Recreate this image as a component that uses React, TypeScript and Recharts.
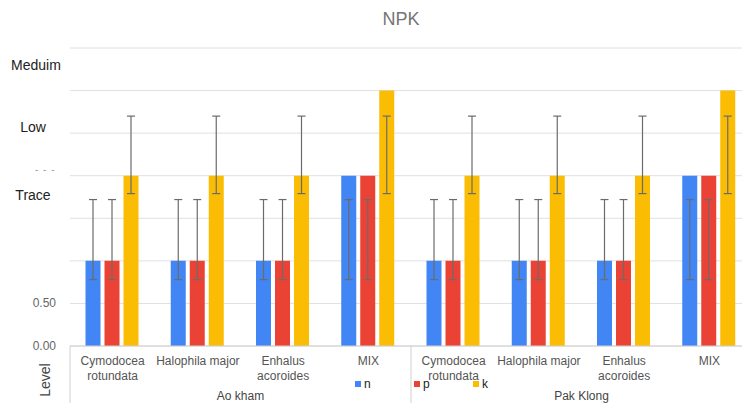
import { Bar, BarChart, CartesianGrid, ErrorBar, XAxis, YAxis } from "recharts";

const categories = [
  "Cymodocea\nrotundata",
  "Halophila major",
  "Enhalus\nacoroides",
  "MIX",
  "Cymodocea\nrotundata",
  "Halophila major",
  "Enhalus\nacoroides",
  "MIX",
];
const groups = ["Ao kham", "Pak Klong"];

const nValues = [1, 1, 1, 2, 1, 1, 1, 2];
const pValues = [1, 1, 1, 2, 1, 1, 1, 2];
const kValues = [2, 2, 2, 3, 2, 2, 2, 3];

// error bar ends (absolute values)
const nErrLow = [0.78, 0.78, 0.78, 0.78, 0.78, 0.78, 0.78, 0.78];
const nErrHigh = [1.72, 1.72, 1.72, 1.72, 1.72, 1.72, 1.72, 1.72];
const pErrLow = [0.78, 0.78, 0.78, 0.78, 0.78, 0.78, 0.78, 0.78];
const pErrHigh = [1.72, 1.72, 1.72, 1.72, 1.72, 1.72, 1.72, 1.72];
const kErrLow = [1.79, 1.79, 1.79, 1.79, 1.79, 1.79, 1.79, 1.79];
const kErrHigh = [2.7, 2.7, 2.7, 2.7, 2.7, 2.7, 2.7, 2.7];

const yTicks = [0, 0.5, 1, 1.5, 2, 2.5, 3, 3.5];
const shownTicks = [0, 0.5];
const levelLabels = [
  { text: "Meduim", x: 36, y: 65 },
  { text: "Low", x: 33, y: 127 },
  { text: "Trace", x: 33, y: 195 },
];

const series = [
  { key: "n", color: "#4285F4" },
  { key: "p", color: "#EA4335" },
  { key: "k", color: "#FBBC04" },
];

const rows = categories.map((name, i) => ({
  name,
  n: nValues[i],
  p: pValues[i],
  k: kValues[i],
  nErr: [nValues[i] - nErrLow[i], nErrHigh[i] - nValues[i]],
  pErr: [pValues[i] - pErrLow[i], pErrHigh[i] - pValues[i]],
  kErr: [kValues[i] - kErrLow[i], kErrHigh[i] - kValues[i]],
}));

const CHART_W = 752;
const CHART_H = 403;
const AXIS_W = 70;
const XAXIS_H = 57;
const AXIS_Y = CHART_H - XAXIS_H;
const BAND = (CHART_W - AXIS_W) / categories.length;
const FONT = "Arial, 'Liberation Sans', sans-serif";

function ValueTick({ x, y, payload }: any) {
  if (!shownTicks.includes(payload.value)) return null;
  return (
    <text x={x - 6} y={y} dy={4} textAnchor="end" fontSize={12} fill="#666" fontFamily={FONT}>
      {payload.value.toFixed(2)}
    </text>
  );
}

function CategoryTick({ x, payload, index }: any) {
  const lines = String(payload.value).split("\n");
  const groupStart = index % 4 === 0;
  return (
    <g>
      {lines.map((line, i) => (
        <text
          key={i}
          x={x}
          y={AXIS_Y + 19 + i * 14.5}
          textAnchor="middle"
          fontSize={12}
          fill="#555"
          fontFamily={FONT}
        >
          {line}
        </text>
      ))}
      {groupStart && (
        <>
          <line x1={x - BAND / 2} x2={x - BAND / 2} y1={AXIS_Y} y2={CHART_H} stroke="#d0d0d0" />
          <text
            x={x + BAND * 1.5}
            y={AXIS_Y + 54}
            textAnchor="middle"
            fontSize={12}
            fill="#444"
            fontFamily={FONT}
          >
            {groups[index / 4]}
          </text>
        </>
      )}
    </g>
  );
}

export default function App() {
  return (
    <div
      style={{
        position: "absolute",
        left: 0,
        top: 0,
        width: 742,
        height: 403,
        overflow: "hidden",
        background: "#fff",
        fontFamily: FONT,
      }}
    >
      <BarChart
        width={CHART_W}
        height={CHART_H}
        data={rows}
        margin={{ top: 48, right: 0, left: 0, bottom: 0 }}
        barGap={4}
        barCategoryGap={15.5}
      >
        <CartesianGrid vertical={false} stroke="#e0e0e0" />
        <XAxis
          dataKey="name"
          height={XAXIS_H}
          interval={0}
          tickLine={false}
          axisLine={{ stroke: "#d0d0d0" }}
          tick={<CategoryTick />}
        />
        <YAxis
          width={AXIS_W}
          domain={[0, 3.5]}
          ticks={yTicks}
          tickLine={false}
          axisLine={false}
          tick={<ValueTick />}
        />
        {series.map((s) => (
          <Bar key={s.key} dataKey={s.key} fill={s.color} isAnimationActive={false}>
            <ErrorBar
              dataKey={`${s.key}Err`}
              width={4}
              stroke="#6b6b6b"
              strokeWidth={1.2}
              direction="y"
              isAnimationActive={false}
            />
          </Bar>
        ))}
      </BarChart>

      <div
        style={{
          position: "absolute",
          left: 381,
          top: 9,
          width: 40,
          textAlign: "center",
          fontSize: 18,
          color: "#757575",
        }}
      >
        NPK
      </div>

      {levelLabels.map((l) => (
        <div
          key={l.text}
          style={{
            position: "absolute",
            left: l.x - 40,
            top: l.y - 9,
            width: 80,
            textAlign: "center",
            fontSize: 14,
            color: "#222",
            lineHeight: "18px",
          }}
        >
          {l.text}
        </div>
      ))}
      <div
        style={{
          position: "absolute",
          left: 35,
          top: 164,
          fontSize: 10,
          color: "#999",
          letterSpacing: 1,
        }}
      >
        - - -
      </div>

      <div
        style={{
          position: "absolute",
          left: 45,
          top: 380,
          transform: "translate(-50%, -50%) rotate(-90deg)",
          fontSize: 14,
          color: "#444",
        }}
      >
        Level
      </div>

      {series.map((s, i) => (
        <div
          key={s.key}
          style={{
            position: "absolute",
            left: 355 + i * 59,
            top: 377,
            display: "flex",
            alignItems: "center",
            fontSize: 12,
            color: "#222",
          }}
        >
          <span style={{ width: 6, height: 6, background: s.color, marginRight: 3 }} />
          {s.key}
        </div>
      ))}
    </div>
  );
}
